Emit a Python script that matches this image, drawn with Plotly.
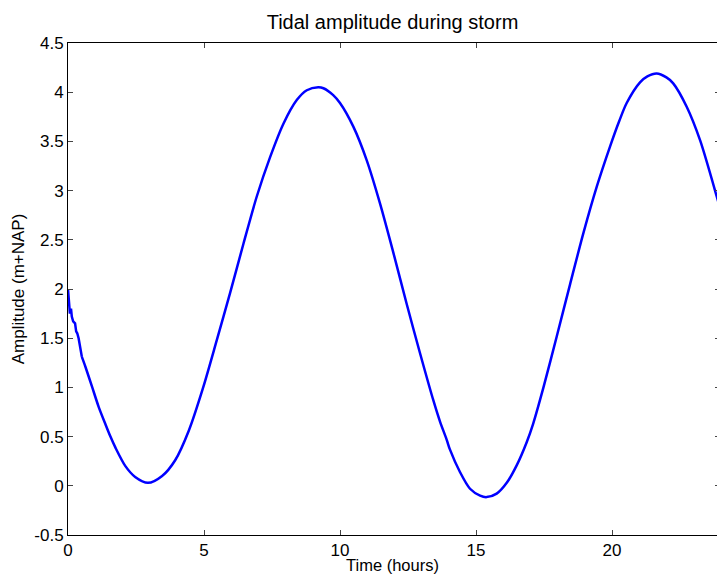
import plotly.graph_objects as go

# Tidal water level during the storm (hours since start, metres above NAP).
# The first samples carry the gauge's short-period noise.
noise_time = [0.0, 0.04, 0.07, 0.11, 0.14, 0.19, 0.26, 0.30, 0.34, 0.39, 0.44, 0.51]
noise_level = [2.00, 1.80, 1.75, 1.80, 1.72, 1.67, 1.65, 1.57, 1.55, 1.50, 1.43, 1.31]

time_hours = [
    0.51, 0.64, 0.88, 1.13, 1.37, 1.56, 1.74, 2.11, 2.47, 2.94, 3.46, 3.94,
    4.44, 4.97, 5.47, 5.96, 6.45, 6.94, 7.43, 7.92, 8.41, 8.78, 9.20, 9.39,
    9.75, 10.00, 10.49, 10.98, 11.47, 11.97, 12.45, 12.94, 13.43, 13.68,
    13.92, 14.04, 14.41, 14.78, 15.15, 15.39, 15.76, 16.13, 16.50, 16.86,
    17.10, 17.48, 17.97, 18.46, 18.95, 19.44, 19.93, 20.27, 20.54, 21.03,
    21.30, 21.64, 22.00, 22.25, 22.75, 23.24, 23.85, 23.95,
]
amplitude_m = [
    1.31, 1.21, 1.01, 0.80, 0.63, 0.50, 0.39, 0.20, 0.09, 0.03, 0.10, 0.26,
    0.56, 1.00, 1.48, 1.96, 2.46, 2.94, 3.34, 3.68, 3.92, 4.02, 4.05, 4.04,
    3.97, 3.89, 3.65, 3.31, 2.87, 2.36, 1.85, 1.35, 0.87, 0.65,
    0.47, 0.37, 0.14, -0.03, -0.10, -0.115, -0.08, 0.03, 0.21, 0.44,
    0.63, 1.00, 1.52, 2.05, 2.57, 3.04, 3.45, 3.71, 3.89, 4.10,
    4.16, 4.19, 4.15, 4.09, 3.85, 3.51, 2.94, 2.84,
]

y_ticks = [-0.5, 0, 0.5, 1, 1.5, 2, 2.5, 3, 3.5, 4, 4.5]
y_tick_text = ["-0.5", "0", "0.5", "1", "1.5", "2", "2.5", "3", "3.5", "4", "4.5"]
x_ticks = [0, 5, 10, 15, 20]
x_tick_text = ["0", "5", "10", "15", "20"]

FONT = "Liberation Sans, Arial, sans-serif"
BLUE = "#0000ff"

fig = go.Figure()
fig.add_trace(go.Scatter(
    x=noise_time, y=noise_level, mode="lines",
    line=dict(color=BLUE, width=2.5),
    showlegend=False, hoverinfo="skip",
))
fig.add_trace(go.Scatter(
    x=time_hours, y=amplitude_m, mode="lines",
    line=dict(color=BLUE, width=2.5, shape="spline", smoothing=0.8),
    showlegend=False, hoverinfo="skip",
))
# right-hand tick stubs of the boxed axes
fig.add_trace(go.Scatter(x=[], y=[], yaxis="y2", showlegend=False))

fig.update_layout(
    width=717, height=574,
    margin=dict(l=68, r=0, t=43, b=39),
    paper_bgcolor="white", plot_bgcolor="white",
    font=dict(family=FONT, size=17, color="black"),
    title=dict(text="Tidal amplitude during storm", x=0.5, xref="paper",
               y=1 - 22 / 574, yanchor="middle",
               font=dict(family=FONT, size=20, color="black")),
    xaxis=dict(
        range=[0, 23.86], tickmode="array", tickvals=x_ticks, ticktext=x_tick_text,
        ticks="inside", ticklen=5, tickcolor="#444", tickwidth=1,
        showline=True, linecolor="black", linewidth=1, mirror="ticks",
        showgrid=False, zeroline=False,
        title=dict(text="Time (hours)", standoff=3,
                   font=dict(family=FONT, size=16.5)),
        tickfont=dict(family=FONT, size=17),
    ),
    yaxis=dict(
        range=[-0.5, 4.5], tickmode="array", tickvals=y_ticks, ticktext=y_tick_text,
        ticks="inside", ticklen=5, tickcolor="#444", tickwidth=1,
        showline=True, linecolor="black", linewidth=1,
        showgrid=False, zeroline=False,
        title=dict(text="Amplitude (m+NAP)", standoff=5,
                   font=dict(family=FONT, size=17)),
        tickfont=dict(family=FONT, size=17),
    ),
    yaxis2=dict(
        range=[-0.5, 4.5], overlaying="y", side="right", anchor="x",
        tickmode="array", tickvals=y_ticks, showticklabels=False,
        ticks="inside", ticklen=2, tickcolor="#444",
        showline=False, showgrid=False, zeroline=False,
    ),
)

fig.write_html("out.html")
